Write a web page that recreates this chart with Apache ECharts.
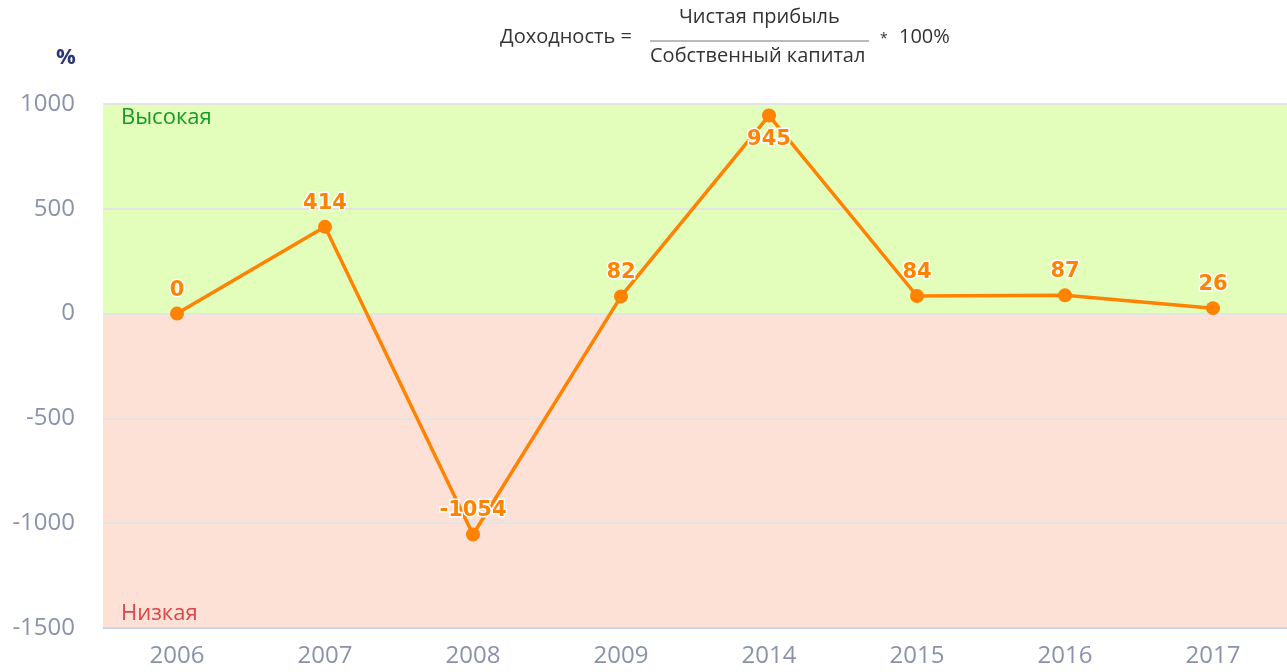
<!DOCTYPE html>
<html>
<head>
<meta charset="utf-8">
<script src="https://cdn.jsdelivr.net/npm/echarts@6/dist/echarts.min.js"></script>
<style>
  html, body { margin: 0; padding: 0; background: #fff; }
  #chart { width: 1287px; height: 672px; }
</style>
</head>
<body>
<div id="chart"></div>
<script>
// данные
var years = ['2006', '2007', '2008', '2009', '2014', '2015', '2016', '2017'];
var returns = [0, 414, -1054, 82, 945, 84, 87, 26];
var yTicks = [-1500, -1000, -500, 0, 500, 1000];
var highBand = [0, 1000];
var lowBand = [-1500, 0];

var chart = echarts.init(document.getElementById('chart'));

var font = '"Open Sans", "Noto Sans", sans-serif';
var orange = '#ff8200';

// подпись максимума ставим под точкой
var maxVal = Math.max.apply(null, returns);
var seriesData = returns.map(function (v) {
  if (v === maxVal) return { value: v, label: { position: 'bottom', distance: 7 } };
  return v;
});

// линии сетки поверх цветных зон; нижняя — ось, голубая
var gridLines = yTicks.map(function (t, i) {
  if (i === 0) return { yAxis: t, lineStyle: { color: '#c9d6ec' } };
  return { yAxis: t };
});

chart.setOption({
  animation: false,
  grid: { left: 103, right: 0, top: 104, bottom: 44 },
  graphic: [
    { type: 'text', left: 56, top: 47, style: { text: '%', font: 'bold 22px ' + font, fill: '#2b3777' } },
    { type: 'text', left: 500, top: 27, style: { text: 'Доходность =', font: '20px ' + font, fill: '#333' } },
    { type: 'text', left: 679, top: 7, style: { text: 'Чистая прибыль', font: '20px ' + font, fill: '#333' } },
    { type: 'line', shape: { x1: 650, y1: 41, x2: 869, y2: 41 }, style: { stroke: '#777', lineWidth: 1 } },
    { type: 'text', left: 650, top: 46, style: { text: 'Собственный капитал', font: '20px ' + font, fill: '#333' } },
    { type: 'text', left: 880, top: 32, style: { text: '*', font: '14px ' + font, fill: '#333' } },
    { type: 'text', left: 899, top: 27, style: { text: '100%', font: '20px ' + font, fill: '#333' } }
  ],
  xAxis: {
    type: 'category',
    data: years,
    boundaryGap: true,
    axisLine: { show: false },
    axisTick: { show: false },
    axisLabel: { color: '#8a93ab', fontSize: 24, fontFamily: font, margin: 16 }
  },
  yAxis: {
    type: 'value',
    min: yTicks[0],
    max: yTicks[yTicks.length - 1],
    interval: 500,
    axisLine: { show: false },
    axisTick: { show: false },
    axisLabel: {
      color: '#8a93ab', fontSize: 24, fontFamily: font, margin: 28,
      formatter: function (v) { return String(v); }
    },
    splitLine: { show: false }
  },
  series: [
    {
      // фоновые зоны
      type: 'line',
      data: [],
      z: 1,
      silent: true,
      markArea: {
        silent: true,
        data: [
          [
            { yAxis: highBand[0], name: 'Высокая', itemStyle: { color: '#e3fdba' },
              label: { position: 'insideTopLeft', color: '#179a26', offset: [13, -2] } },
            { yAxis: highBand[1] }
          ],
          [
            { yAxis: lowBand[0], name: 'Низкая', itemStyle: { color: '#fde0d6' },
              label: { position: 'insideBottomLeft', color: '#d9474a', offset: [13, 2] } },
            { yAxis: lowBand[1] }
          ]
        ],
        label: { show: true, fontSize: 22, fontFamily: font }
      }
    },
    {
      // сетка
      type: 'line',
      data: [],
      z: 3,
      silent: true,
      markLine: {
        silent: true,
        symbol: 'none',
        label: { show: false },
        lineStyle: { color: '#e4e4e4', width: 2, type: 'solid' },
        data: gridLines
      }
    },
    {
      type: 'line',
      data: seriesData,
      z: 10,
      symbol: 'circle',
      symbolSize: 14,
      lineStyle: { color: orange, width: 3.5 },
      itemStyle: { color: orange },
      label: {
        show: true,
        position: 'top',
        distance: 6,
        color: orange,
        fontSize: 21,
        fontWeight: 'bold',
        fontFamily: '"DejaVu Sans", sans-serif',
        textBorderColor: '#fff',
        textBorderWidth: 3
      }
    }
  ]
});
</script>
</body>
</html>
